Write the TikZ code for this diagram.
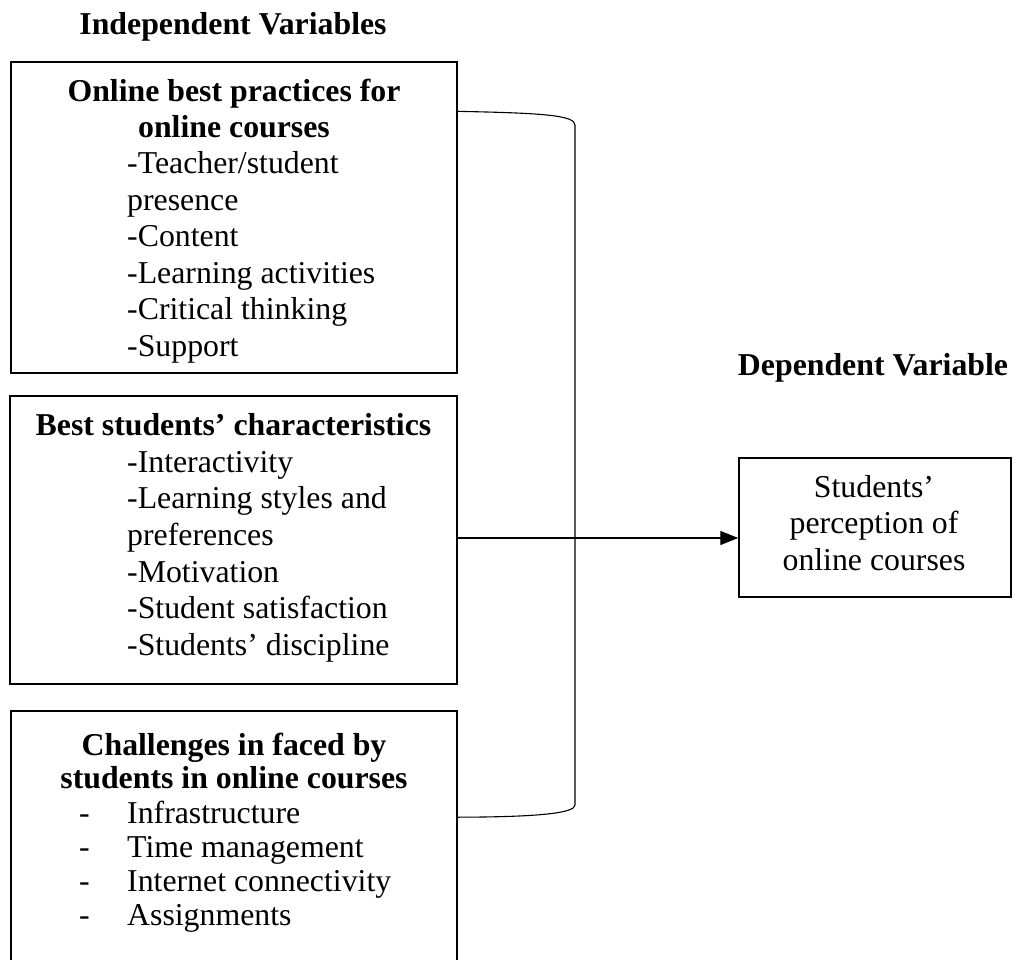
\documentclass[tikz,border=0pt]{standalone}
\usepackage{fontspec}
\setmainfont{Liberation Serif}
\usetikzlibrary{arrows.meta}
\tikzset{
  box/.style={draw=black, rectangle, inner sep=0pt},
  txt/.style={inner sep=0pt, font=\fontsize{31.8}{#1}\selectfont},
  txt/.default=36.5pt,
  conn/.style={draw=black, line width=1.1pt},
}
\begin{document}
\begin{tikzpicture}[x=1pt,y=-1pt]
\clip (0,0) rectangle (1018,960);
\fill[white] (0,0) rectangle (1018,960);

% titles
\node[txt, anchor=base] (tind) at (233,35) {\bfseries Independent Variables};
\node[txt, anchor=base] (tdep) at (873,375) {\bfseries Dependent Variable};

% boxes
\node[box, line width=1.3pt, minimum width=446pt, minimum height=311pt] (b1) at (234,217.5) {};
\node[box, line width=1.8pt, minimum width=447pt, minimum height=288pt] (b2) at (233.5,540) {};
\node[box, line width=1.6pt, minimum width=446pt, minimum height=279pt] (b3) at (234,850.5) {};
\node[box, line width=1.5pt, minimum width=272pt, minimum height=139pt] (dv) at (875,527.5) {};

% box 1 text
\node[txt=35.5pt, anchor=base] (b1t) at (234,102) {\begin{tabular}[t]{@{}c@{}}\bfseries Online best practices for\\ \bfseries online courses\end{tabular}};
\node[txt=36.5pt, anchor=base west] (b1l) at (127,174) {\begin{tabular}[t]{@{}l@{}}-Teacher/student\\ presence\\ -Content\\ -Learning activities\\ -Critical thinking\\ -Support\end{tabular}};

% box 2 text
\node[txt, anchor=base] (b2t) at (233.5,435) {\bfseries Best students’ characteristics};
\node[txt=36.7pt, anchor=base west] (b2l) at (127,472) {\begin{tabular}[t]{@{}l@{}}-Interactivity\\ -Learning styles and\\ preferences\\ -Motivation\\ -Student satisfaction\\ -Students’ discipline\end{tabular}};

% box 3 text
\node[txt=33pt, anchor=base] (b3t) at (234,755) {\begin{tabular}[t]{@{}c@{}}\bfseries Challenges in faced by\\ \bfseries students in online courses\end{tabular}};
\node[txt=34pt, anchor=base west] (b3d) at (79,823) {\begin{tabular}[t]{@{}l@{}}-\\ -\\ -\\ -\end{tabular}};
\node[txt=34pt, anchor=base west] (b3l) at (127,823) {\begin{tabular}[t]{@{}l@{}}Infrastructure\\ Time management\\ Internet connectivity\\ Assignments\end{tabular}};

% dependent box text
\node[txt=36.5pt, anchor=base] (dvt) at (874,497) {\begin{tabular}[t]{@{}c@{}}Students’\\ perception of\\ online courses\end{tabular}};

% bracket connector
\coordinate (c1) at ([yshift=-50pt]b1.north east);
\coordinate (c3) at ([yshift=-107pt]b3.north east);
\draw[conn] (c1) .. controls (540,113) and (575,115) .. (575,125)
  -- (575,805) .. controls (575,813) and (540,817) .. (c3);

% arrow
\draw[conn, -{Triangle[length=18pt,width=14pt]}] ([yshift=2pt]b2.east) -- ([yshift=2pt]b2.east -| dv.west);
\end{tikzpicture}
\end{document}
